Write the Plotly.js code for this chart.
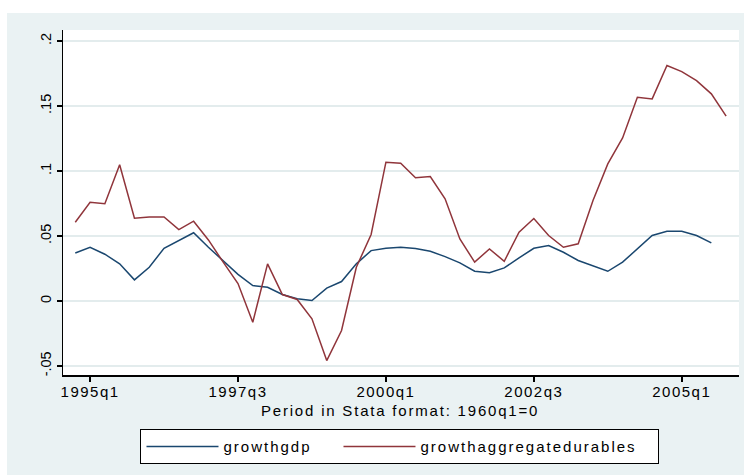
<!DOCTYPE html>
<html>
<head>
<meta charset="utf-8">
<script src="https://cdn.plot.ly/plotly-3.0.1.min.js"></script>
<style>
html,body{margin:0;padding:0;background:#fff;}
.xtick text{letter-spacing:1.5px;}
.legendtext{letter-spacing:2px;}
.annotation-text{letter-spacing:1.8px;}
</style>
</head>
<body>
<div id="chart" style="width:744px;height:475px;"></div>
<script>
// Stata quarterly dates (1960q1 = 0)
const quarters = [139,140,141,142,143,144,145,146,147,148,149,150,151,152,153,154,155,156,157,158,159,160,161,162,163,164,165,166,167,168,169,170,171,172,173,174,175,176,177,178,179,180,181,182,183];

const growthgdp = [0.037,0.0414,0.036,0.0286,0.0163,0.026,0.0406,0.0465,0.0525,0.0414,0.0312,0.0205,0.0119,0.0106,0.005,0.0017,0.0004,0.0099,0.015,0.0286,0.0388,0.0406,0.0414,0.0404,0.0383,0.0342,0.0294,0.0229,0.0217,0.0255,0.0332,0.0406,0.0427,0.0375,0.0312,0.0273,0.0229,0.0299,0.0401,0.0504,0.0537,0.0537,0.0504,0.0448];

const growthaggregatedurables = [0.0606,0.076,0.0748,0.1048,0.0637,0.0647,0.0647,0.055,0.0614,0.047,0.0299,0.0135,-0.0163,0.0286,0.005,0.0012,-0.0137,-0.0458,-0.0227,0.026,0.0512,0.1068,0.106,0.0948,0.0958,0.0786,0.0478,0.0299,0.0401,0.0306,0.0529,0.0635,0.0504,0.0414,0.044,0.0773,0.1055,0.1255,0.1568,0.1555,0.1812,0.1765,0.1696,0.1594,0.1422];

const xTickVals = [140,150,160,170,180];
const xTickText = ['1995q1','1997q3','2000q1','2002q3','2005q1'];
const yTickVals = [-0.05,0,0.05,0.1,0.15,0.2];
const yTickText = ['-.05','0','.05','.1','.15','.2'];
const xTitle = 'Period in Stata format: 1960q1=0';

const font = 'Liberation Sans, Arial, sans-serif';

const traces = [
  {x: quarters.slice(0, growthgdp.length), y: growthgdp, type:'scatter', mode:'lines', name:'growthgdp',
   line:{color:'#1A476F', width:1.5}, legendwidth:110},
  {x: quarters, y: growthaggregatedurables, type:'scatter', mode:'lines', name:'growthaggregatedurables',
   line:{color:'#90353B', width:1.5}, legendwidth:233}
];

const layout = {
  width:744, height:475,
  margin:{l:63, r:5, t:30, b:100},
  paper_bgcolor:'#EAF2F3',
  plot_bgcolor:'#FFFFFF',
  font:{family:font, size:15, color:'#000'},
  showlegend:true,
  xaxis:{
    range:[138.17,183.87], tickvals:xTickVals, ticktext:xTickText,
    showgrid:false, zeroline:false, showline:true, linecolor:'#000', linewidth:1.5,
    ticks:'outside', ticklen:5, tickwidth:1.5, tickcolor:'#000', ticklabelstandoff:-3,
    tickfont:{family:font, size:15}
  },
  yaxis:{
    range:[-0.0569,0.2085], tickvals:yTickVals, ticktext:yTickText,
    showgrid:true, gridcolor:'#E3ECED', gridwidth:1.5, zeroline:false,
    showline:true, linecolor:'#000', linewidth:1.5,
    ticks:'outside', ticklen:5, tickwidth:1.5, tickcolor:'#000',
    tickangle:-90, tickfont:{family:font, size:14.5}
  },
  legend:{
    orientation:'h', x:0.4985, xanchor:'center', y:-0.157, yanchor:'top',
    bgcolor:'#FFFFFF', bordercolor:'#000', borderwidth:1,
    font:{family:font, size:15}, itemwidth:72
  },
  annotations:[
    {text:xTitle, xref:'paper', yref:'paper', x:0.4985, y:-0.0745, xanchor:'center', yanchor:'top',
     showarrow:false, borderpad:0, font:{family:font, size:15, color:'#000'}}
  ],
  shapes:[
    {type:'rect', xref:'paper', yref:'paper', x0:-0.2, x1:1.1, y0:1.0493, y1:1.2, fillcolor:'#FFFFFF', line:{width:0}, layer:'below'},
    {type:'rect', xref:'paper', yref:'paper', x0:-0.2, x1:-0.0828, y0:-0.4, y1:1.2, fillcolor:'#FFFFFF', line:{width:0}, layer:'below'}
  ]
};

Plotly.newPlot('chart', traces, layout, {displayModeBar:false, staticPlot:true});
</script>
</body>
</html>
